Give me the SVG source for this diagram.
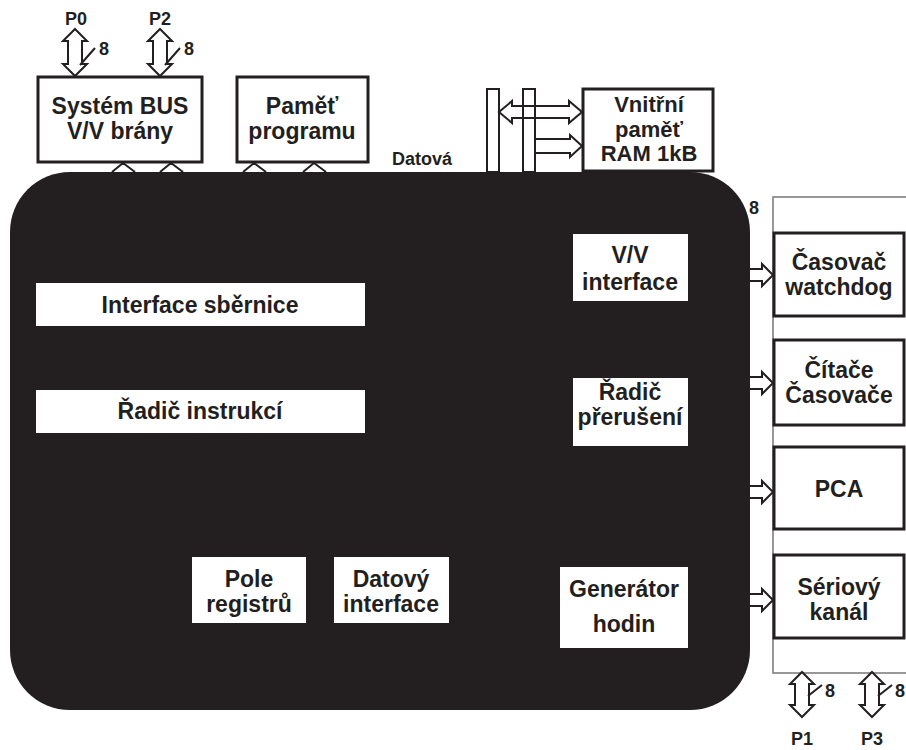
<svg xmlns="http://www.w3.org/2000/svg" width="906" height="750" viewBox="0 0 906 750">
<style>
text{font-family:"Liberation Sans",Arial,sans-serif;font-weight:bold;fill:#231f20}
.t{font-size:23px;text-anchor:middle}
.r{font-size:22px}
.s{font-size:18px}
.box{fill:#fff;stroke:#231f20;stroke-width:3}
.in{fill:#fff;stroke:none}
.ar{fill:#fff;stroke:#231f20;stroke-width:2;stroke-linejoin:miter}
.ln{fill:none;stroke:#231f20;stroke-width:2}
</style>
<rect width="906" height="750" fill="#fff"/>
<g id="strip"><rect x="773" y="197" width="135" height="476" fill="#fff" stroke="#777" stroke-width="1.5"/></g>
<g id="cpu">
<rect x="10" y="172" width="740" height="538" rx="60" ry="60" fill="#231f20"/>
</g>
<g id="interface-sbernice"><rect class="in" x="36" y="283" width="329" height="43"/><text class="t" x="200" y="313">Interface sběrnice</text></g>
<g id="radic-instrukci"><rect class="in" x="36" y="390" width="329" height="43"/><text class="t" x="200" y="419">Řadič instrukcí</text></g>
<g id="vv-interface"><rect class="in" x="573" y="234" width="115" height="67"/><text class="t" x="630" y="263">V/V</text><text class="t" x="630" y="290">interface</text></g>
<g id="radic-preruseni"><rect class="in" x="573" y="378" width="115" height="68"/><text class="t" x="630" y="400">Řadič</text><text class="t" x="630" y="425">přerušení</text></g>
<g id="pole-registru"><rect class="in" x="192" y="557" width="114" height="66"/><text class="t" x="249" y="587">Pole</text><text class="t" x="249" y="612">registrů</text></g>
<g id="datovy-interface"><rect class="in" x="334" y="557" width="115" height="66"/><text class="t" x="391" y="587">Datový</text><text class="t" x="391" y="612">interface</text></g>
<g id="generator-hodin"><rect class="in" x="560" y="567" width="128" height="81"/><text class="t" x="624" y="597">Generátor</text><text class="t" x="624" y="632">hodin</text></g>
<g id="system-bus"><rect class="box" x="38" y="77" width="164" height="85"/><text class="t" x="120" y="114">Systém BUS</text><text class="t" x="120" y="139">V/V brány</text></g>
<g id="pamet-programu"><rect class="box" x="237" y="77" width="131" height="85"/><text class="t" x="302" y="114">Paměť</text><text class="t" x="302" y="139">programu</text></g>
<g id="ram"><rect class="box" x="583" y="89" width="130" height="82"/><text class="t r" x="649" y="112">Vnitřní</text><text class="t r" x="649" y="137">paměť</text><text class="t r" x="649" y="161">RAM 1kB</text></g>
<g id="casovac-watchdog"><rect class="box" x="774" y="233" width="130" height="83"/><text class="t" x="839" y="270">Časovač</text><text class="t" x="839" y="295">watchdog</text></g>
<g id="citace-casovace"><rect class="box" x="774" y="340" width="130" height="85"/><text class="t" x="839" y="378">Čítače</text><text class="t" x="839" y="403">Časovače</text></g>
<g id="pca"><rect class="box" x="774" y="447" width="130" height="82"/><text class="t" x="839" y="497">PCA</text></g>
<g id="seriovy-kanal"><rect class="box" x="774" y="555" width="130" height="83"/><text class="t" x="839" y="595">Sériový</text><text class="t" x="839" y="620">kanál</text></g>
<g id="connectors">
<path class="ln" d="M112,172 L123,163 L135,172 M160,172 L171,163 L183,172 M243,172 L254,163 L266,172 M303,172 L314,163 L326,172"/>
<path class="ar" d="M75,29 L87,41 L82,41 L82,64 L87,64 L75,76 L63,64 L68,64 L68,41 L63,41 Z"/>
<path class="ar" d="M160,29 L172,41 L167,41 L167,64 L172,64 L160,76 L148,64 L153,64 L153,41 L148,41 Z"/>
<path class="ln" d="M80,65 L95,48 M165,65 L180,48"/>
<text class="s" x="99" y="55">8</text><text class="s" x="184" y="55">8</text>
<text class="s" x="76" y="25" text-anchor="middle">P0</text><text class="s" x="160" y="25" text-anchor="middle">P2</text>
<path class="ar" d="M499,112 L512,101 L512,106 L569,106 L569,101 L582,112 L569,123 L569,118 L512,118 L512,123 Z"/>
<path class="ar" d="M535,139 L570,139 L570,135 L582,146 L570,157 L570,153 L535,153"/>
<rect x="487" y="89" width="12" height="83" fill="none" stroke="#231f20" stroke-width="2"/>
<rect x="523" y="89" width="12" height="83" fill="none" stroke="#231f20" stroke-width="2"/>
<text class="s" x="392" y="165">Datová</text>
<path class="ar" d="M750,269 L762,269 L762,264 L773,275 L762,286 L762,281 L750,281"/>
<path class="ar" d="M750,377 L762,377 L762,372 L773,383 L762,394 L762,389 L750,389"/>
<path class="ar" d="M750,486 L762,486 L762,481 L773,492 L762,503 L762,498 L750,498"/>
<path class="ar" d="M750,594 L762,594 L762,589 L773,600 L762,611 L762,606 L750,606"/>
<text class="s" x="749" y="214">8</text>
<path class="ar" d="M802,672 L814,684 L809,684 L809,705 L814,705 L802,717 L790,705 L795,705 L795,684 L790,684 Z"/>
<path class="ar" d="M872,672 L884,684 L879,684 L879,705 L884,705 L872,717 L860,705 L865,705 L865,684 L860,684 Z"/>
<path class="ln" d="M808,696 L822,685 M878,696 L892,685"/>
<text class="s" x="825" y="697">8</text><text class="s" x="895" y="697">8</text>
<text class="s" x="802" y="745" text-anchor="middle">P1</text><text class="s" x="872" y="745" text-anchor="middle">P3</text>
</g>
</svg>
